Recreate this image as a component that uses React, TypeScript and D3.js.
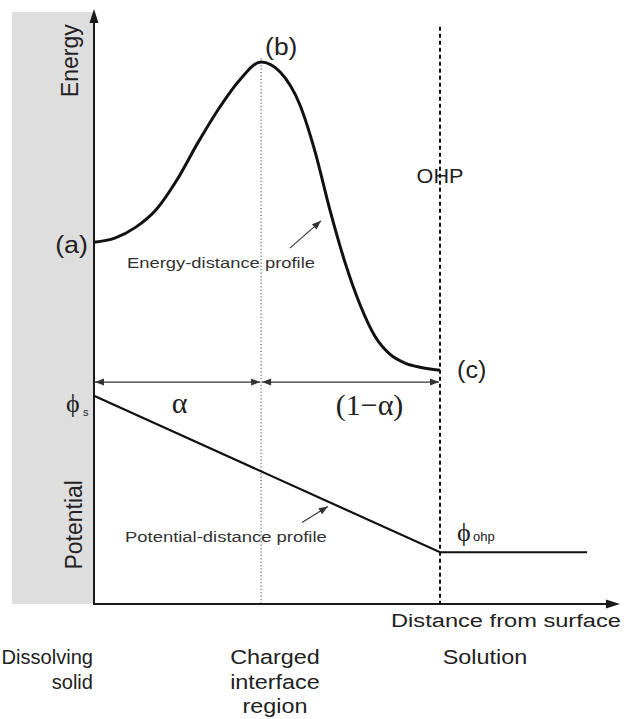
import React from 'react';
import * as d3 from 'd3';

// distance from surface: 0 = surface, 1 = outer Helmholtz plane (OHP)
const energyDistance = [0, 0.06, 0.12, 0.18, 0.24, 0.3, 0.36, 0.42, 0.483, 0.538, 0.595, 0.639, 0.682, 0.725, 0.769, 0.812, 0.855, 0.899, 0.942, 1];
const energyValue = [60.8, 61.5, 63.3, 66.3, 71.3, 77.5, 83.2, 88.0, 91.1, 89.4, 83.9, 76.0, 66.2, 57.5, 50.3, 45.0, 42.0, 40.5, 39.8, 39.3];
const potentialDistance = [0, 1, 1.425];
const potentialValue = [35.0, 8.7, 8.7];
const alpha = 0.483;
const xMax = 1.52;
const yMax = 100;
const solidDepth = 0.237;

const regionNames = [['Dissolving', 'solid'], ['Charged', 'interface', 'region'], ['Solution']];
const regionCenters = [0, 0.523, 1.13];

const W = 633;
const H = 719;
const SANS = '"Liberation Sans", Arial, Helvetica, sans-serif';
const SERIF = '"Liberation Serif", "Times New Roman", serif';

const x = d3.scaleLinear().domain([0, 1]).range([94, 440]);
const y = d3.scaleLinear().domain([0, yMax]).range([604, 9]);

const head = (tx: number, ty: number, angle: number, len: number, hw: number) => {
  const cx = Math.cos(angle), sy = Math.sin(angle);
  const bx = tx - cx * len, by = ty - sy * len;
  const p = [
    [tx, ty],
    [bx - sy * hw, by + cx * hw],
    [bx + sy * hw, by - cx * hw],
  ];
  return p.map((d) => d.join(',')).join(' ');
};

const Label = ({ tx, ty, sx = 1, size, anchor = 'start', font = SANS, fill = '#222', children }: any) => (
  <text
    transform={`translate(${tx},${ty}) scale(${sx},1)`}
    fontFamily={font}
    fontSize={size}
    textAnchor={anchor}
    fill={fill}
  >
    {children}
  </text>
);

const Arrow = ({ x1, y1, x2, y2, both = false, len = 9, hw = 3.5, color = '#333', width = 1.2 }: any) => {
  const a = Math.atan2(y2 - y1, x2 - x1);
  return (
    <g>
      <line x1={x1} y1={y1} x2={x2} y2={y2} stroke={color} strokeWidth={width} />
      <polygon points={head(x2, y2, a, len, hw)} fill={color} />
      {both && <polygon points={head(x1, y1, a + Math.PI, len, hw)} fill={color} />}
    </g>
  );
};

export default function App() {
  const energyLine = d3
    .line<number>()
    .x((_, i) => x(energyDistance[i]))
    .y((d) => y(d))
    .curve(d3.curveMonotoneX)(energyValue) as string;

  const potentialLine = d3
    .line<number>()
    .x((_, i) => x(potentialDistance[i]))
    .y((d) => y(d))(potentialValue) as string;

  const x0 = x(0);
  const y0 = y(0);
  const xa = x(alpha);
  const x1 = x(1);
  const yArrow = y(37.3);
  const peak = d3.max(energyValue) as number;

  return (
    <svg width={W} height={H} style={{ position: 'absolute', left: 0, top: 0, background: '#fff' }}>
      {/* dissolving solid */}
      <rect x={x(-solidDepth)} y={y(yMax) + 3} width={x0 - x(-solidDepth)} height={y0 - y(yMax) - 3} fill="#dedede" />

      {/* reference verticals */}
      <line x1={xa} x2={xa} y1={y(peak + 0.6)} y2={y0} stroke="#444" strokeWidth={1} strokeDasharray="1.2 2.2" />
      <line x1={x1} x2={x1} y1={y(97)} y2={y0} stroke="#111" strokeWidth={2} strokeDasharray="4 3" />

      {/* axes */}
      <line x1={x0} x2={x0} y1={y0 + 1} y2={y(yMax) + 10} stroke="#1a1a1a" strokeWidth={2} />
      <polygon points={head(x0, y(yMax), -Math.PI / 2, 14, 4.5)} fill="#1a1a1a" />
      <line x1={x0 - 1} x2={x(xMax) - 10} y1={y0} y2={y0} stroke="#1a1a1a" strokeWidth={2} />
      <polygon points={head(x(xMax), y0, 0, 14, 4.5)} fill="#1a1a1a" />

      {/* profiles */}
      <path d={energyLine} fill="none" stroke="#111" strokeWidth={3} strokeLinejoin="round" />
      <path d={potentialLine} fill="none" stroke="#111" strokeWidth={2.2} />

      {/* alpha span arrows */}
      <Arrow x1={x0 + 1} y1={yArrow} x2={xa - 1} y2={yArrow} both />
      <Arrow x1={xa + 1} y1={yArrow} x2={x1 - 1} y2={yArrow} both />

      {/* annotation arrows */}
      <Arrow x1={x(0.566)} y1={y(59.8)} x2={x(0.656)} y2={y(64.4)} len={9} hw={3.5} width={1.1} />
      <Arrow x1={x(0.601)} y1={y(13.7)} x2={x(0.676)} y2={y(16.4)} len={9} hw={3.5} width={1.1} />

      {/* axis titles */}
      <text transform={`translate(78,${y(91.3)}) rotate(-90)`} fontFamily={SANS} fontSize={23} textAnchor="middle" fill="#222">
        Energy
      </text>
      <text transform={`translate(82,${y(13.3)}) rotate(-90)`} fontFamily={SANS} fontSize={23} textAnchor="middle" fill="#222">
        Potential
      </text>
      <Label tx={x(xMax) + 1} ty={627} size={19} sx={1.245} anchor="end">Distance from surface</Label>

      {/* point labels */}
      <Label tx={x0 - 6} ty={y(60.8) + 11} size={24} sx={1.12} anchor="end">(a)</Label>
      <Label tx={xa + 4} ty={55} size={24} sx={1.1}>(b)</Label>
      <Label tx={x1 + 17} ty={y(39.3) + 8} size={24} sx={1.05}>(c)</Label>
      <Label tx={x1} ty={183} size={21} sx={1.03} anchor="middle">OHP</Label>

      <Label tx={127} ty={268} size={15.5} sx={1.186} fill="#333">Energy-distance profile</Label>
      <Label tx={125} ty={542} size={15.5} sx={1.19} fill="#333">Potential-distance profile</Label>

      {/* alpha */}
      <Label tx={(x0 + xa) / 2 + 2} ty={413} size={30} font={SERIF} anchor="middle">α</Label>
      <Label tx={(xa + x1) / 2 + 19} ty={415} size={30} font={SERIF} anchor="middle">(1−α)</Label>

      {/* potentials */}
      <Label tx={66} ty={412} size={26} font={SERIF}>ϕ</Label>
      <Label tx={83} ty={416} size={11}>s</Label>
      <Label tx={457} ty={541} size={26} font={SERIF}>ϕ</Label>
      <Label tx={473} ty={541} size={13}>ohp</Label>

      {/* regions */}
      {regionNames.map((lines, i) =>
        lines.map((t, j) => (
          <Label
            key={`${i}-${j}`}
            tx={i === 0 ? x(regionCenters[i]) - 1 : x(regionCenters[i])}
            ty={664 + j * 24.5}
            size={19.5}
            sx={i === 0 ? 1.03 : 1.2}
            anchor={i === 0 ? 'end' : 'middle'}
          >
            {t}
          </Label>
        ))
      )}
    </svg>
  );
}
